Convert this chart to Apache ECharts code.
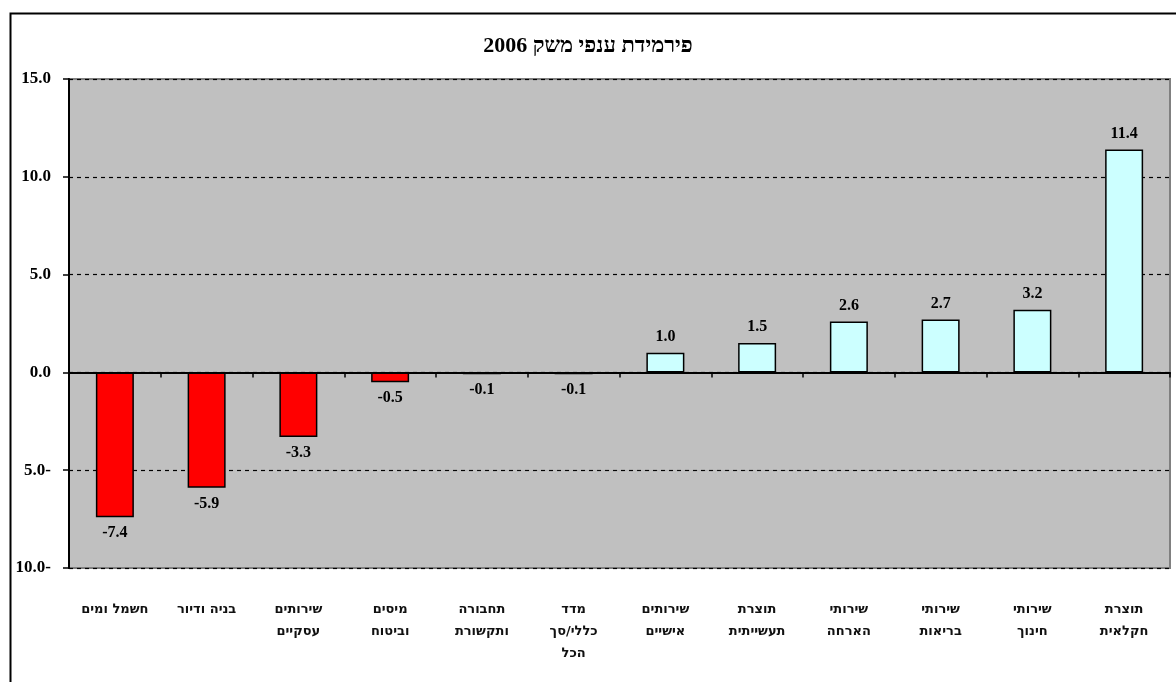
<!DOCTYPE html>
<html>
<head>
<meta charset="utf-8">
<script src="https://cdn.jsdelivr.net/npm/echarts@6/dist/echarts.min.js"></script>
<style>
html,body{margin:0;padding:0;background:#fff;}
#main{width:1176px;height:682px;}
</style>
</head>
<body>
<div id="main"></div>
<script>
// ענפי משק - קטגוריות (משמאל לימין)
var categories = ['חשמל ומים', 'בניה ודיור', 'שירותים\nעסקיים', 'מיסים\nוביטוח', 'תחבורה\nותקשורת', 'מדד\nכללי/סך\nהכל',
	'שירותים\nאישיים', 'תוצרת\nתעשייתית', 'שירותי\nהארחה', 'שירותי\nבריאות', 'שירותי\nחינוך', 'תוצרת\nחקלאית'];
var values = [-7.4, -5.9, -3.3, -0.5, -0.1, -0.1, 1.0, 1.5, 2.6, 2.7, 3.2, 11.4];
var titleText = 'פירמידת ענפי משק 2006';

var bar_data = [];
for (var i = 0; i < values.length; i++) {
	var v = values[i];
	bar_data.push({
		value: v,
		itemStyle: { color: v < 0 ? '#FF0000' : '#CCFFFF' },
		label: { position: v < 0 ? 'bottom' : 'top' }
	});
}

var chart = echarts.init(document.getElementById('main'));
var option = {
	animation: false,
	title: {
		text: titleText,
		left: 'center',
		top: 30,
		textStyle: { fontFamily: 'Liberation Serif', fontSize: 22, fontWeight: 'bold', color: '#000' }
	},
	graphic: [{
		type: 'rect',
		left: 8, top: 11,
		shape: { width: 1200, height: 700 },
		style: { fill: 'none', stroke: '#000', lineWidth: 2 },
		silent: true
	}],
	grid: {
		left: 69, right: 6, top: 79, bottom: 114,
		show: true,
		backgroundColor: '#C0C0C0',
		borderColor: '#808080',
		borderWidth: 2
	},
	xAxis: [{
		type: 'category',
		data: categories,
		position: 'bottom',
		axisLine: { show: false, onZero: false },
		axisTick: { show: false },
		axisLabel: {
			interval: 0,
			margin: 31,
			lineHeight: 22,
			fontFamily: 'DejaVu Sans',
			fontSize: 13,
			fontWeight: 'bold',
			color: '#111'
		}
	}, {
		type: 'category',
		data: categories,
		position: 'bottom',
		axisLine: { show: true, onZero: true, lineStyle: { color: '#000', width: 2 } },
		axisTick: { show: true, length: 5, lineStyle: { color: '#000', width: 1.5 } },
		axisLabel: { show: false }
	}],
	yAxis: {
		type: 'value',
		min: -10, max: 15, interval: 5,
		axisLine: { show: true, lineStyle: { color: '#000', width: 2 } },
		axisTick: { show: true, length: 6, lineStyle: { color: '#000', width: 1.5 } },
		axisLabel: {
			margin: 18,
			fontFamily: 'Liberation Serif',
			fontSize: 17,
			fontWeight: 'bold',
			color: '#000',
			formatter: function (v) {
				return v < 0 ? Math.abs(v).toFixed(1) + '-' : v.toFixed(1);
			}
		},
		splitLine: { show: true, lineStyle: { color: '#000', type: [4, 4], width: 1.2 } }
	},
	series: [{
		type: 'bar',
		xAxisIndex: 0,
		data: bar_data,
		barWidth: 38,
		itemStyle: { borderColor: '#000', borderWidth: 1.5 },
		label: {
			show: true,
			distance: 8,
			fontFamily: 'Liberation Serif',
			fontSize: 16,
			fontWeight: 'bold',
			color: '#000',
			formatter: function (p) { return p.value.toFixed(1); }
		}
	}]
};
chart.setOption(option);
</script>
</body>
</html>
